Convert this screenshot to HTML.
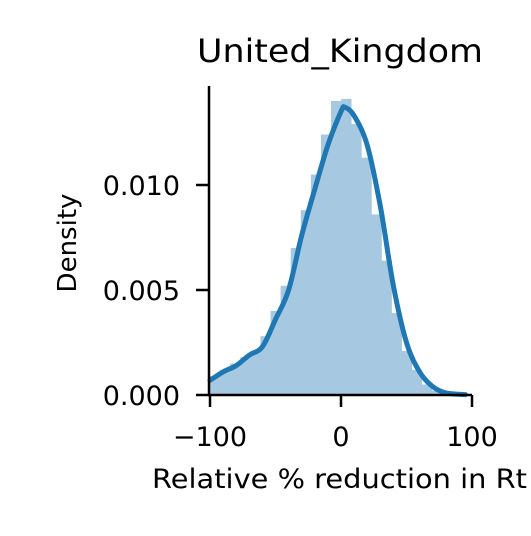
<!DOCTYPE html>
<html><head><style>
body{margin:0;background:#fff}
svg text{font-family:"DejaVu Sans","Liberation Sans",sans-serif;fill:#000}
</style></head><body>
<svg id="c" width="531" height="531" viewBox="0 0 531 531">
<text x="340" y="62" font-size="32" text-anchor="middle" textLength="286" lengthAdjust="spacingAndGlyphs">United_Kingdom</text>
<g id="bars"></g>
<path id="kde" fill="none" stroke="#1f77b4" stroke-width="5" stroke-linejoin="round" stroke-linecap="round"/>
<g id="axes"></g>
<text x="76" y="243" font-size="26" text-anchor="middle" transform="rotate(-90 76 243)">Density</text>
<text x="152" y="488" font-size="27" textLength="375" lengthAdjust="spacingAndGlyphs">Relative % reduction in Rt</text>
</svg>
<script>
const binEdgesStart = -100;
const binWidth = 7.7;
const barValues = [0.0009,0.0012,0.0015,0.0018,0.0021,0.0028,0.0040,0.0052,0.0070,0.0088,0.0105,0.0124,0.0140,0.0141,0.0129,0.0113,0.0086,0.0064,0.0039,0.0021,0.0012,0.0005,0.0002,0.0001,0.00003,0.00001];
const kdeX = [-100,-90,-80,-70,-60,-50,-40,-30,-20,-10,0,3,10,20,30,40,50,60,70,80,95];
const kdeY = [0.0007,0.0011,0.0014,0.0019,0.0023,0.0036,0.005,0.0076,0.0098,0.0119,0.0135,0.0137,0.0133,0.0119,0.009,0.0052,0.0025,0.0011,0.0004,0.0001,0.00002];
const xTicks = [-100,0,100];
const xTickLabels = ["\u2212100","0","100"];
const yTicks = [0,0.005,0.01];
const yTickLabels = ["0.000","0.005","0.010"];
const NS="http://www.w3.org/2000/svg";
const xs = v => 210 + (v + 100) * 1.31;
const ys = v => 395 - v * 21000;
const bars = document.getElementById('bars');
barValues.forEach((v,i)=>{
  const r=document.createElementNS(NS,'rect');
  const x0=xs(binEdgesStart+i*binWidth), x1=xs(binEdgesStart+(i+1)*binWidth);
  r.setAttribute('x',x0);r.setAttribute('width',x1-x0+0.3);
  r.setAttribute('y',ys(v));r.setAttribute('height',395-ys(v));
  r.setAttribute('fill','#a6c8e0');
  
  
  bars.appendChild(r);
});
const P = kdeX.map((x,i)=>[xs(x), ys(kdeY[i])]);
let d = 'M'+P[0][0].toFixed(1)+' '+P[0][1].toFixed(1);
for(let i=0;i<P.length-1;i++){
  const p0=P[Math.max(i-1,0)], p1=P[i], p2=P[i+1], p3=P[Math.min(i+2,P.length-1)];
  const c1=[p1[0]+(p2[0]-p0[0])/6, p1[1]+(p2[1]-p0[1])/6];
  const c2=[p2[0]-(p3[0]-p1[0])/6, p2[1]-(p3[1]-p1[1])/6];
  d+=' C'+c1.map(n=>n.toFixed(1)).join(' ')+' '+c2.map(n=>n.toFixed(1)).join(' ')+' '+p2.map(n=>n.toFixed(1)).join(' ');
}
document.getElementById('kde').setAttribute('d', d);
const ax=document.getElementById('axes');
function line(x1,y1,x2,y2,name){const l=document.createElementNS(NS,'line');l.setAttribute('x1',x1);l.setAttribute('y1',y1);l.setAttribute('x2',x2);l.setAttribute('y2',y2);l.setAttribute('stroke','#000');l.setAttribute('stroke-width','2.5');


ax.appendChild(l);}
function text(x,y,s,anchor,name){const t=document.createElementNS(NS,'text');t.setAttribute('x',x);t.setAttribute('y',y);t.setAttribute('font-size','27');t.setAttribute('text-anchor',anchor);t.textContent=s;


ax.appendChild(t);}
line(209,86,209,396,'y-axis-line');
line(208,395,472,395,'x-axis-line');
xTicks.forEach((v,i)=>{line(xs(v),395,xs(v),407,'x-tick');text(xs(v),446,xTickLabels[i],'middle','x-tick-label');});
yTicks.forEach((v,i)=>{line(196,ys(v),209,ys(v),'y-tick');text(180,ys(v)+10,yTickLabels[i],'end','y-tick-label');});
</script>
</body></html>
